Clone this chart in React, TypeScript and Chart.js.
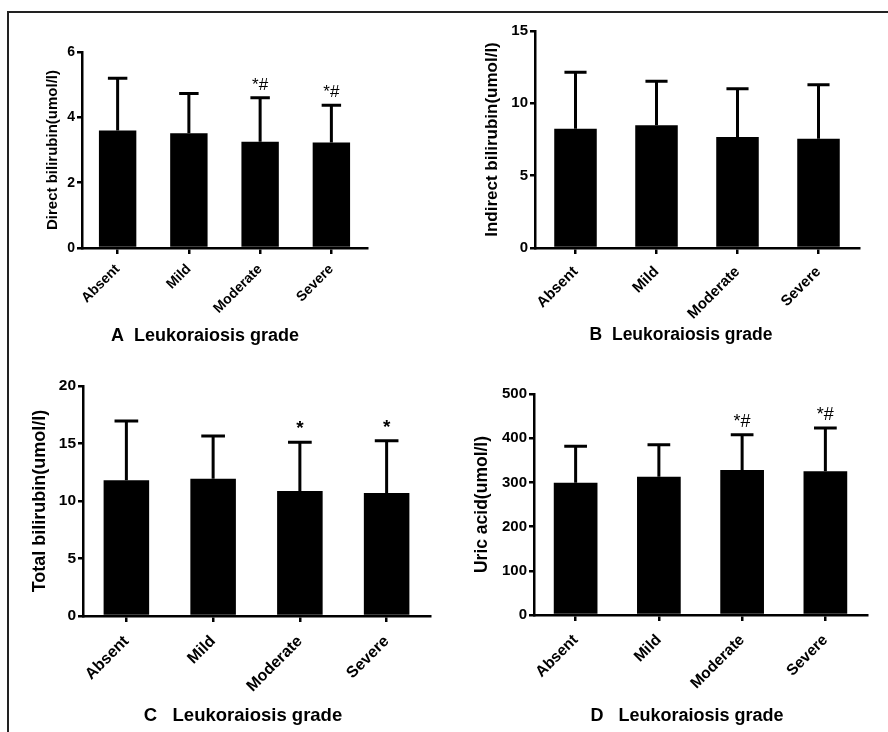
import React, { useEffect, useRef } from 'react';
import { Chart, registerables } from 'chart.js';

Chart.register(...registerables);

const FONT = 'Arial, "Liberation Sans", Helvetica, sans-serif';

const categories = ['Absent', 'Mild', 'Moderate', 'Severe'];

const directMean = [3.6, 3.51, 3.25, 3.23];
const directSD = [1.6, 1.22, 1.35, 1.14];
const directMarks = ['', '', '*#', '*#'];
const directTicks = [0, 2, 4, 6];

const indirectMean = [8.25, 8.48, 7.67, 7.56];
const indirectSD = [3.89, 3.04, 3.34, 3.73];
const indirectMarks = ['', '', '', ''];
const indirectTicks = [0, 5, 10, 15];

const totalMean = [11.8, 11.94, 10.87, 10.7];
const totalSD = [5.16, 3.71, 4.23, 4.54];
const totalMarks = ['', '', '*', '*'];
const totalTicks = [0, 5, 10, 15, 20];

const uricMean = [299, 313, 328, 325];
const uricSD = [83, 72, 80, 98];
const uricMarks = ['', '', '*#', '*#'];
const uricTicks = [0, 100, 200, 300, 400, 500];

type PanelCfg = {
  qx: number;
  qy: number;
  area: { left: number; top: number; right: number; bottom: number };
  mean: number[];
  sd: number[];
  marks: string[];
  ticks: number[];
  yTitle: string;
  yTitleSize: number;
  yTitleCenter: number;
  tickSize: number;
  catSize: number;
  catPad: number;
  markSize: number;
  markBold: boolean;
  panelTitle: string;
  panelTitleSize: number;
  panelTitleX: number;
  panelTitleY: number;
};

const QW = 444;
const QH = 366;

const panels: PanelCfg[] = [
  {
    qx: 0, qy: 0,
    area: { left: 82, top: 52, right: 367, bottom: 248 },
    mean: directMean, sd: directSD, marks: directMarks, ticks: directTicks,
    yTitle: 'Direct bilirubin(umol/l)', yTitleSize: 15, yTitleCenter: 53,
    tickSize: 14, catSize: 14, catPad: 7, markSize: 17, markBold: false,
    panelTitle: 'A  Leukoraiosis grade', panelTitleSize: 18, panelTitleX: 205, panelTitleY: 336,
  },
  {
    qx: 444, qy: 0,
    area: { left: 535, top: 31, right: 859, bottom: 248 },
    mean: indirectMean, sd: indirectSD, marks: indirectMarks, ticks: indirectTicks,
    yTitle: 'Indirect bilirubin(umol/l)', yTitleSize: 17, yTitleCenter: 492,
    tickSize: 15, catSize: 15, catPad: 9, markSize: 17, markBold: false,
    panelTitle: 'B  Leukoraiosis grade', panelTitleSize: 17.5, panelTitleX: 681, panelTitleY: 335,
  },
  {
    qx: 0, qy: 366,
    area: { left: 83, top: 386, right: 430, bottom: 616 },
    mean: totalMean, sd: totalSD, marks: totalMarks, ticks: totalTicks,
    yTitle: 'Total bilirubin(umol/l)', yTitleSize: 18, yTitleCenter: 40,
    tickSize: 15.5, catSize: 16, catPad: 10, markSize: 19, markBold: true,
    panelTitle: 'C   Leukoraiosis grade', panelTitleSize: 18.5, panelTitleX: 243, panelTitleY: 716,
  },
  {
    qx: 444, qy: 366,
    area: { left: 534, top: 394, right: 867, bottom: 615 },
    mean: uricMean, sd: uricSD, marks: uricMarks, ticks: uricTicks,
    yTitle: 'Uric acid(umol/l)', yTitleSize: 17.5, yTitleCenter: 482,
    tickSize: 15, catSize: 15.5, catPad: 10, markSize: 18, markBold: false,
    panelTitle: 'D   Leukoraiosis grade', panelTitleSize: 18, panelTitleX: 687, panelTitleY: 716,
  },
];

const errorBarPlugin = {
  id: 'errorBarsAndMarks',
  afterDatasetsDraw(chart: any, _args: any, opts: any) {
    const { ctx } = chart;
    const meta = chart.getDatasetMeta(0);
    const y = chart.scales.y;
    ctx.save();
    ctx.strokeStyle = '#000';
    ctx.fillStyle = '#000';
    ctx.lineWidth = 3;
    ctx.lineCap = 'butt';
    meta.data.forEach((el: any, i: number) => {
      const top = y.getPixelForValue(opts.mean[i] + opts.sd[i]);
      const half = el.width * 0.26;
      ctx.beginPath();
      ctx.moveTo(el.x, el.y);
      ctx.lineTo(el.x, top);
      ctx.moveTo(el.x - half, top);
      ctx.lineTo(el.x + half, top);
      ctx.stroke();
      const mark = opts.marks[i];
      if (mark) {
        ctx.font = `${opts.markBold ? 'bold ' : ''}${opts.markSize}px ${FONT}`;
        ctx.textAlign = 'center';
        ctx.textBaseline = 'alphabetic';
        ctx.fillText(mark, el.x, top - 8);
      }
    });
    ctx.restore();
  },
};

const panelTitlePlugin = {
  id: 'panelTitle',
  afterDraw(chart: any, _args: any, opts: any) {
    const { ctx } = chart;
    ctx.save();
    ctx.fillStyle = '#000';
    ctx.font = `bold ${opts.size}px ${FONT}`;
    ctx.textAlign = 'center';
    ctx.textBaseline = 'middle';
    ctx.fillText(opts.text, opts.x, opts.y);
    ctx.restore();
  },
};

function Panel({ cfg }: { cfg: PanelCfg }) {
  const ref = useRef<HTMLCanvasElement | null>(null);
  useEffect(() => {
    if (!ref.current) return;
    const a = cfg.area;
    const yTitleLH = cfg.yTitleSize * 1.2;
    const chart = new Chart(ref.current, {
      type: 'bar',
      data: {
        labels: categories,
        datasets: [
          {
            data: cfg.mean,
            backgroundColor: '#000',
            borderWidth: 0,
            categoryPercentage: 0.525,
            barPercentage: 1,
          },
        ],
      },
      plugins: [errorBarPlugin, panelTitlePlugin],
      options: {
        responsive: false,
        animation: false,
        devicePixelRatio: 1,
        layout: {
          padding: { left: 0, top: a.top - cfg.qy, right: cfg.qx + QW - a.right, bottom: 0 },
        },
        plugins: {
          legend: { display: false },
          tooltip: { enabled: false },
          errorBarsAndMarks: { mean: cfg.mean, sd: cfg.sd, marks: cfg.marks, markSize: cfg.markSize, markBold: cfg.markBold },
          panelTitle: { text: cfg.panelTitle, size: cfg.panelTitleSize, x: cfg.panelTitleX - cfg.qx, y: cfg.panelTitleY - cfg.qy },
        } as any,
        scales: {
          x: {
            type: 'category',
            offset: true,
            grid: {
              display: true,
              drawOnChartArea: false,
              drawTicks: true,
              tickLength: 6,
              offset: false,
              color: '#000',
              lineWidth: 2.5,
            },
            border: { display: true, color: '#000', width: 2.5 },
            ticks: {
              autoSkip: false,
              maxRotation: 45,
              minRotation: 45,
              padding: cfg.catPad,
              color: '#000',
              font: { family: FONT, size: cfg.catSize, weight: 'bold' },
            },
            afterFit: (s: any) => {
              s.height = cfg.qy + QH - a.bottom;
            },
          },
          y: {
            type: 'linear',
            min: cfg.ticks[0],
            max: cfg.ticks[cfg.ticks.length - 1],
            afterBuildTicks: (s: any) => {
              s.ticks = cfg.ticks.map((v) => ({ value: v }));
            },
            grid: {
              display: true,
              drawOnChartArea: false,
              drawTicks: true,
              tickLength: 5,
              color: '#000',
              lineWidth: 2.5,
            },
            border: { display: true, color: '#000', width: 2.5 },
            ticks: {
              padding: 2,
              color: '#000',
              font: { family: FONT, size: cfg.tickSize, weight: 'bold' },
            },
            title: {
              display: true,
              text: cfg.yTitle,
              color: '#000',
              font: { family: FONT, size: cfg.yTitleSize, weight: 'bold', lineHeight: 1.2 },
              padding: { top: cfg.yTitleCenter - cfg.qx - yTitleLH / 2, bottom: 0 },
            },
            afterFit: (s: any) => {
              s.width = a.left - cfg.qx;
            },
          },
        },
      } as any,
    });
    return () => chart.destroy();
  }, [cfg]);
  return (
    <canvas
      ref={ref}
      width={QW}
      height={QH}
      style={{ position: 'absolute', left: cfg.qx, top: cfg.qy, width: QW, height: QH }}
    />
  );
}

export default function App() {
  return (
    <div style={{ position: 'absolute', left: 0, top: 0, width: 888, height: 732, background: '#fff', overflow: 'hidden' }}>
      <div
        style={{
          position: 'absolute',
          left: 7,
          top: 11,
          width: 890,
          height: 730,
          borderTop: '2px solid #222',
          borderLeft: '2px solid #222',
        }}
      />
      {panels.map((p, i) => (
        <Panel key={i} cfg={p} />
      ))}
    </div>
  );
}
